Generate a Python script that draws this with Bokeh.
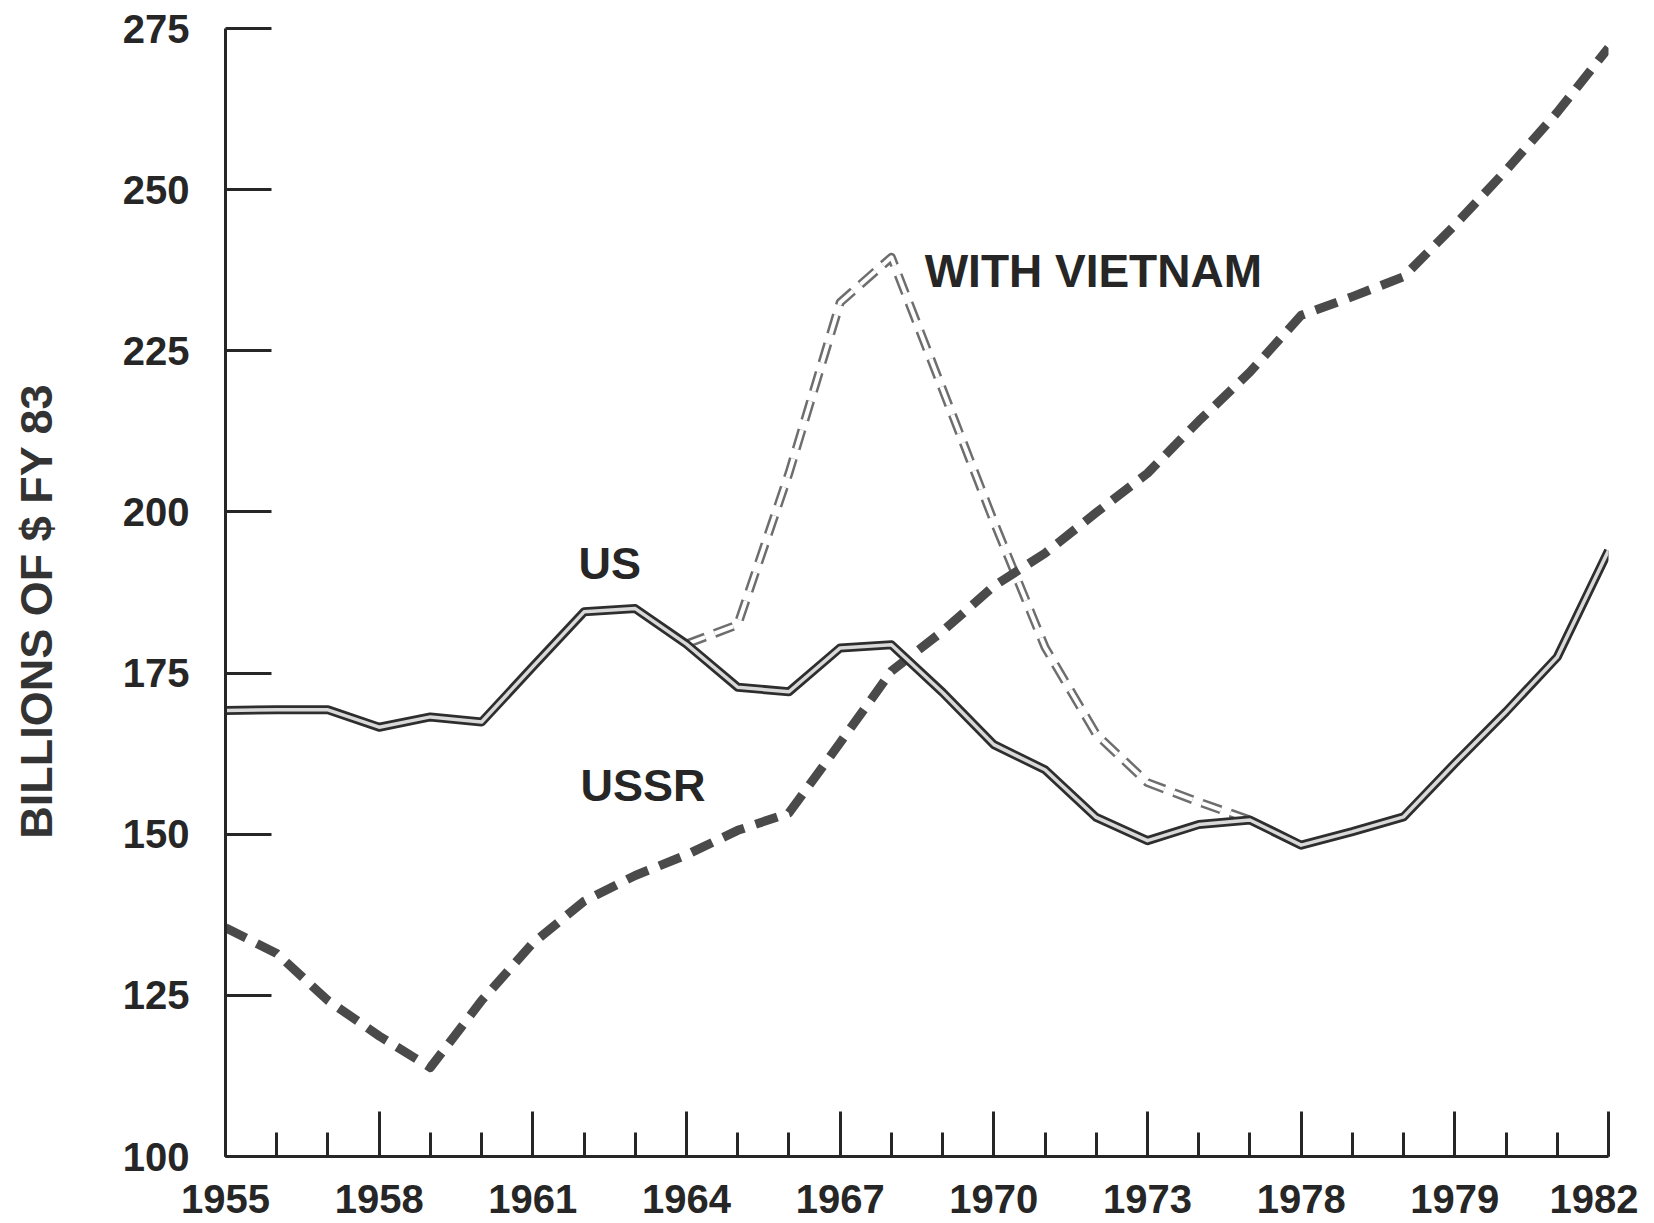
from bokeh.plotting import figure
from bokeh.models import Range1d, FixedTicker
from bokeh.embed import file_html
from bokeh.resources import INLINE
from bokeh.core.properties import value

# ---- data ----
years = list(range(1955, 1983))
us = [169.2, 169.3, 169.3, 166.6, 168.2, 167.4, 176.0, 184.5, 185.0, 179.5,
      172.8, 172.1, 178.9, 179.4, 172.0, 163.9, 160.0, 152.6, 149.0, 151.5,
      152.2, 148.3, 150.4, 152.7, 161.0, 169.0, 177.5, 194.0]
ussr = [135.5, 131.5, 124.2, 118.7, 113.8, 124.2, 133.1, 139.6, 143.6, 146.8,
        150.6, 153.3, 164.2, 175.3, 181.5, 188.5, 193.6, 199.9, 206.0, 214.1,
        221.7, 230.5, 233.4, 236.5, 244.5, 253.0, 262.0, 272.0]
wv_years = list(range(1964, 1976))
with_vietnam = [179.5, 182.5, 206.0, 232.5, 239.5, 219.0, 198.5, 179.0,
                165.5, 158.0, 155.0, 152.2]

x_major_ticks = [1955, 1958, 1961, 1964, 1967, 1970, 1973, 1976, 1979, 1982]
x_tick_labels = ["1955", "1958", "1961", "1964", "1967", "1970", "1973",
                 "1978", "1979", "1982"]
y_ticks = [100, 125, 150, 175, 200, 225, 250, 275]
y_tick_labels = ["100", "125", "150", "175", "200", "225", "250", "275"]
y_title = "BILLIONS OF $ FY 83"

INK = "#262626"
FONT = "Liberation Sans"

p = figure(frame_width=1383, frame_height=1128,
           x_range=Range1d(1955, 1982), y_range=Range1d(100, 275),
           output_backend="svg", toolbar_location=None,
           min_border_left=225, min_border_top=28, min_border_right=30,
           min_border_bottom=66)
p.outline_line_color = None
p.xgrid.visible = False
p.ygrid.visible = False
p.background_fill_color = "white"
p.border_fill_color = "white"

# x axis
xa = p.xaxis[0]
xa.ticker = FixedTicker(ticks=x_major_ticks, minor_ticks=years)
xa.major_label_overrides = dict(zip(x_major_ticks, x_tick_labels))
xa.major_tick_in = 45
xa.major_tick_out = 0
xa.minor_tick_in = 24
xa.minor_tick_out = 0
xa.axis_line_width = 3
xa.axis_line_color = INK
xa.major_tick_line_width = 3
xa.major_tick_line_color = INK
xa.minor_tick_line_width = 3
xa.minor_tick_line_color = INK
xa.major_label_text_font = FONT
xa.major_label_text_font_style = "bold"
xa.major_label_text_font_size = "40px"
xa.major_label_text_color = INK
xa.major_label_standoff = 28

# y axis
ya = p.yaxis[0]
ya.ticker = FixedTicker(ticks=y_ticks, minor_ticks=[])
ya.major_label_overrides = dict(zip(y_ticks, y_tick_labels))
ya.major_tick_in = 46
ya.major_tick_out = 0
ya.minor_tick_in = 0
ya.minor_tick_out = 0
ya.axis_line_width = 3
ya.axis_line_color = INK
ya.major_tick_line_width = 3
ya.major_tick_line_color = INK
ya.major_label_text_font = FONT
ya.major_label_text_font_style = "bold"
ya.major_label_text_font_size = "40px"
ya.major_label_text_color = INK
ya.major_label_standoff = 36
# trailing no-break spaces nudge the rotated title down to where the
# reference has it
ya.axis_label = y_title + "\u00a0\u00a0\u00a0"
ya.axis_label_text_font = FONT
ya.axis_label_text_font_style = "bold"
ya.axis_label_text_font_size = "45px"
ya.axis_label_text_color = "#333333"
ya.axis_label_standoff = 58

# WITH VIETNAM (hollow light dashes)
p.line(wv_years, with_vietnam, line_color="#6e6e6e", line_width=9,
       line_dash="20 10", line_join="round")
p.line(wv_years, with_vietnam, line_color="white", line_width=4,
       line_dash="20 10", line_join="round")

# USSR (dark dashes)
p.line(years, ussr, line_color="#4a4a4a", line_width=9, line_dash="23 12",
       line_join="round")

# US (double outline solid line)
p.line(years, us, line_color="#2e2e2e", line_width=9, line_join="round")
p.line(years, us, line_color="#d9d9d9", line_width=3.5, line_join="round")

# series labels
p.text(x=[1962.5], y=[192.0], text=["US"], text_font=value(FONT),
       text_font_style="bold", text_font_size="45px", text_color=INK,
       text_align="center", text_baseline="middle")
p.text(x=[1963.15], y=[157.5], text=["USSR"], text_font=value(FONT),
       text_font_style="bold", text_font_size="45px", text_color=INK,
       text_align="center", text_baseline="middle")
p.text(x=[1968.65], y=[237.4], text=["WITH VIETNAM"], text_font=value(FONT),
       text_font_style="bold", text_font_size="46px", text_color=INK,
       text_align="left", text_baseline="middle")

open("out.html", "w").write(file_html(p, INLINE))
